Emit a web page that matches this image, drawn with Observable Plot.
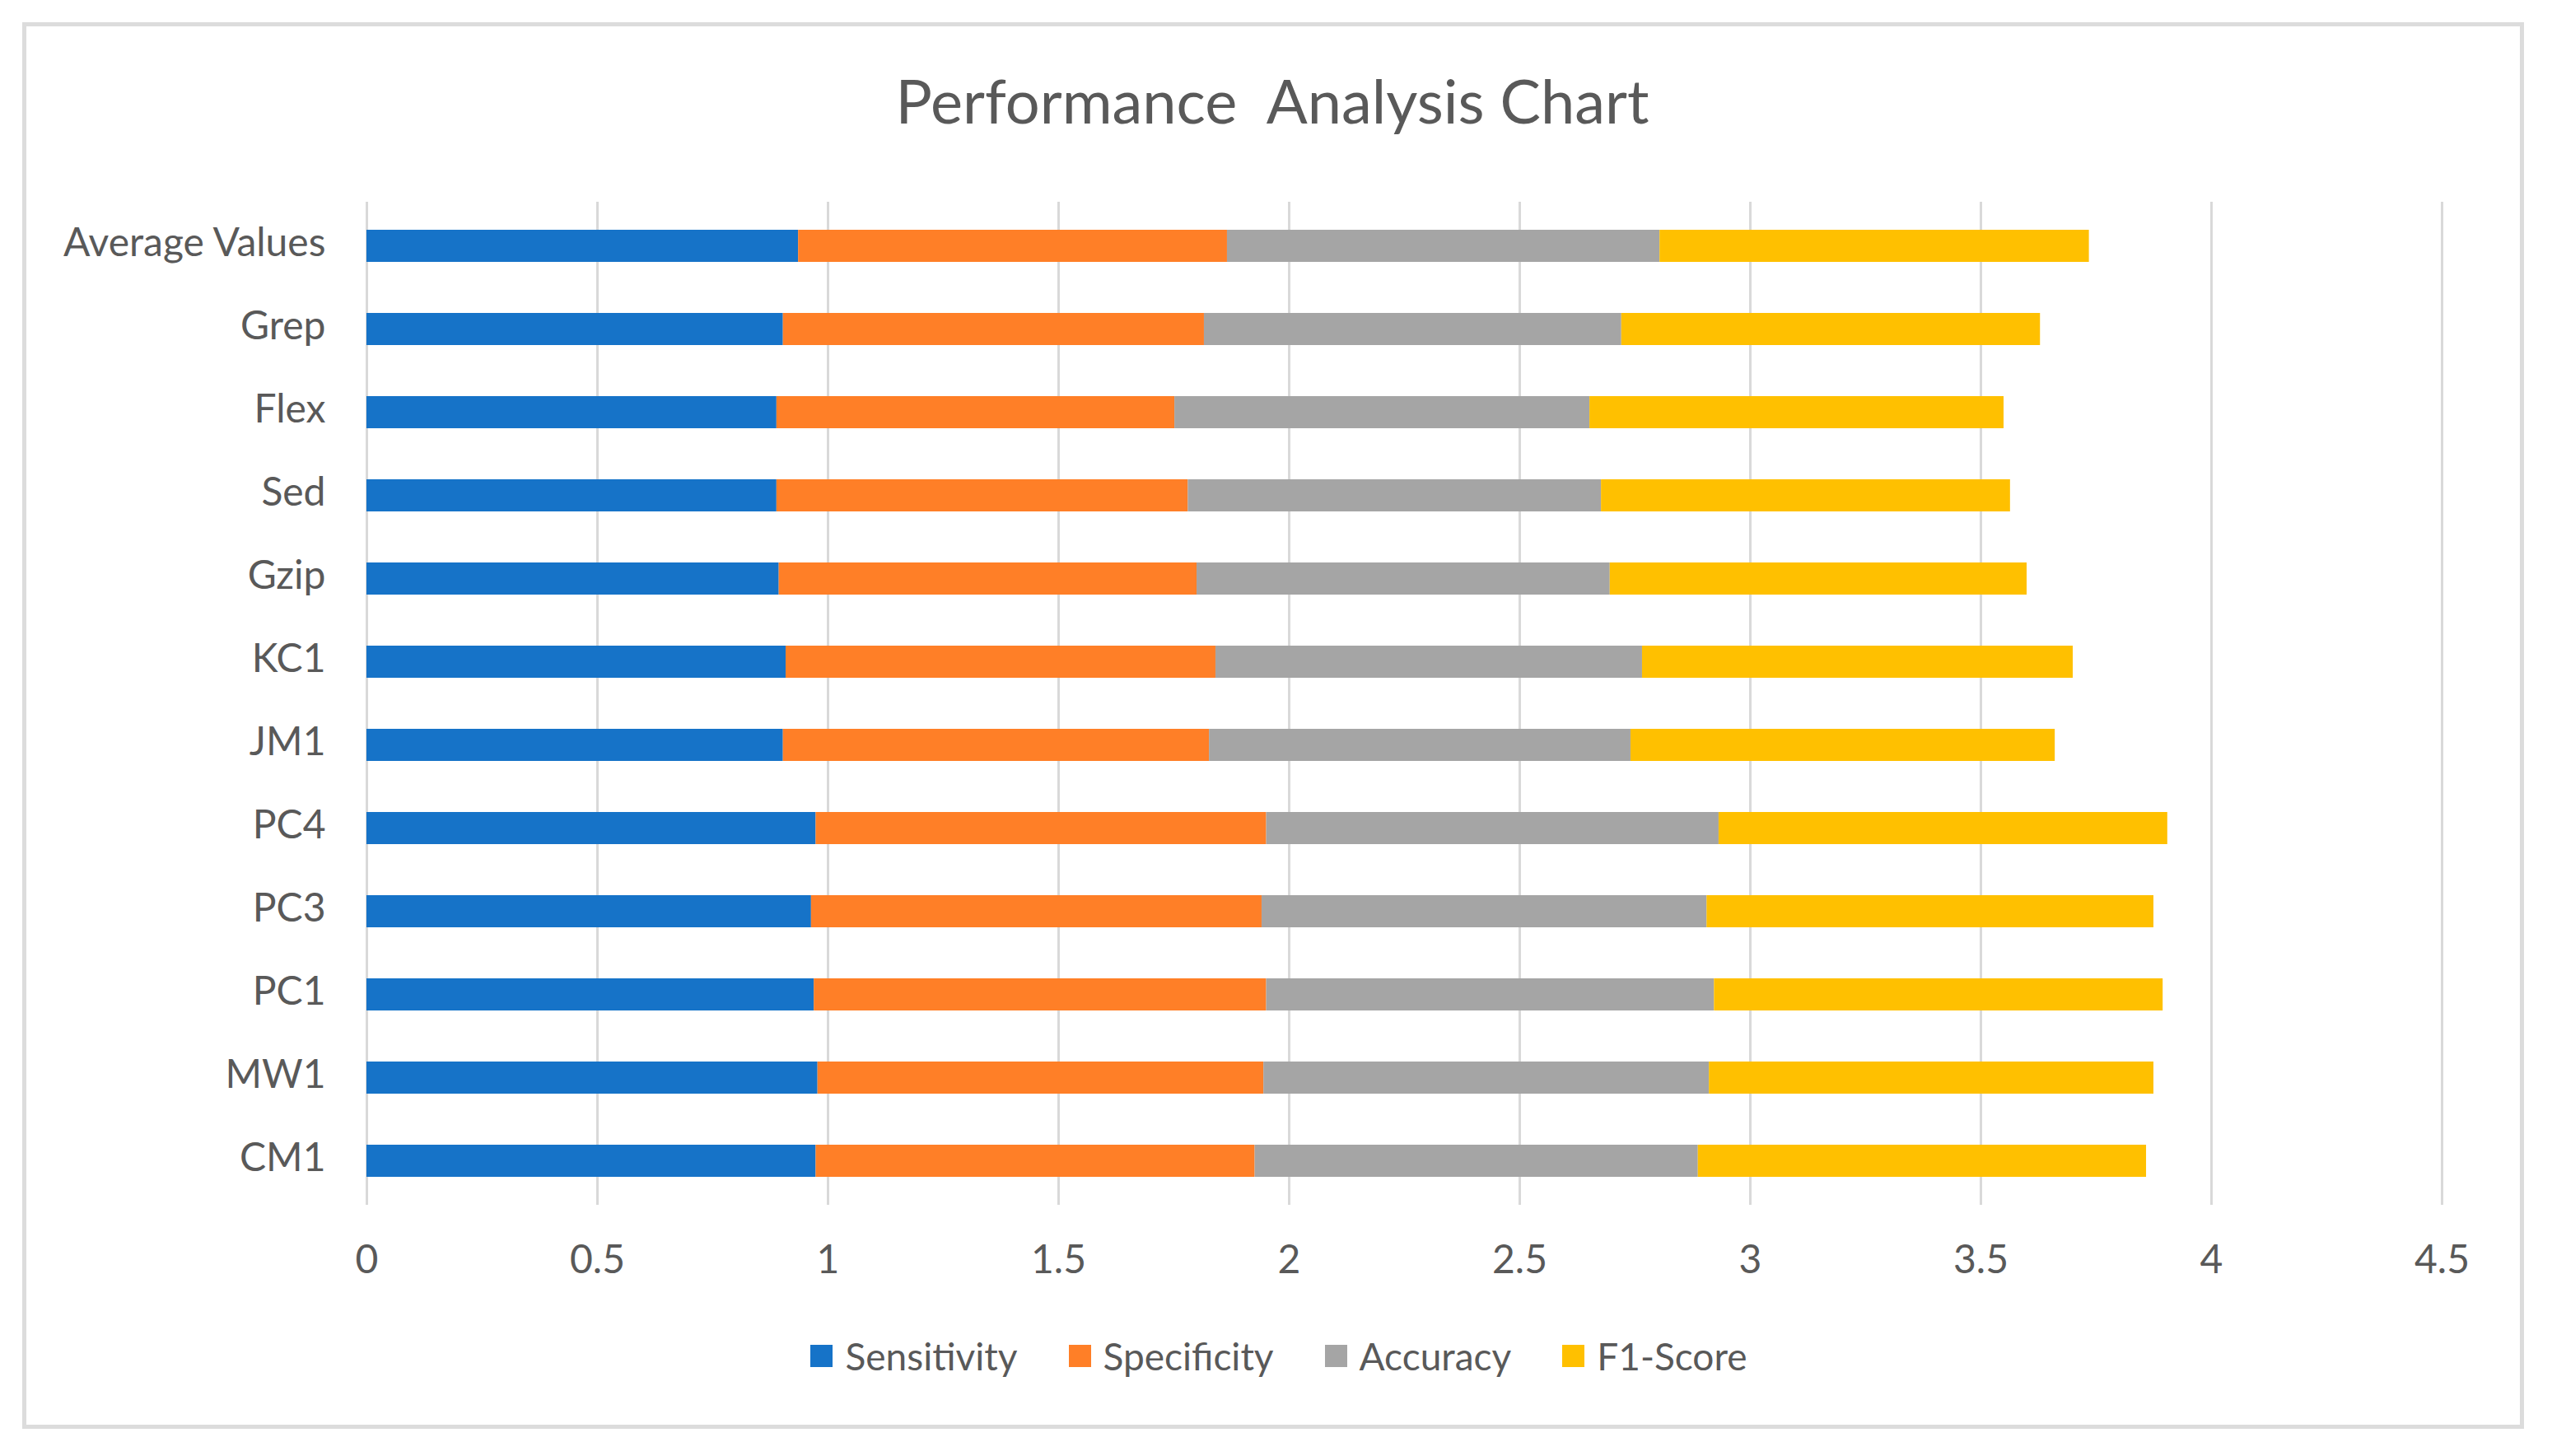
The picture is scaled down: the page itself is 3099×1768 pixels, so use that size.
<!DOCTYPE html>
<html>
<head>
<meta charset="utf-8">
<script src="https://cdn.jsdelivr.net/npm/d3@7"></script>
<script src="https://cdn.jsdelivr.net/npm/@observablehq/plot@0.6"></script>
<style>
  html, body { margin: 0; padding: 0; background: #ffffff; }
  #page { position: relative; width: 3099px; height: 1768px; background: #ffffff; font-family: Lato, "Open Sans", sans-serif; color: #595959; overflow: hidden; }
  #frame { position: absolute; left: 27px; top: 27px; width: 3028px; height: 1698px; border: 5px solid #dcdcdc; box-sizing: content-box; }
  #title { position: absolute; left: 0; width: 3090px; top: 78px; text-align: center; font-size: 74px; line-height: 1.2; color: #595959; white-space: pre; }
  #chart { position: absolute; left: 0; top: 200px; }
  #legend { position: absolute; left: 0; width: 3106px; top: 1619px; display: flex; justify-content: center; gap: 62px; font-size: 46px; line-height: 1.2; color: #595959; }
  .item { display: flex; align-items: center; gap: 15px; }
  .sw { width: 27px; height: 27px; }
</style>
</head>
<body>
<div id="page">
  <div id="frame"></div>
  <div id="title">Performance  Analysis Chart</div>
  <div id="chart"></div>
  <div id="legend"></div>
</div>
<script>
const categories = ["Average Values", "Grep", "Flex", "Sed", "Gzip", "KC1", "JM1", "PC4", "PC3", "PC1", "MW1", "CM1"];
const metrics = ["Sensitivity", "Specificity", "Accuracy", "F1-Score"];
const colors = ["#1673c8", "#ff7f27", "#a5a5a5", "#ffc000"];
const sensitivity = [0.936, 0.903, 0.889, 0.889, 0.894, 0.909, 0.903, 0.974, 0.964, 0.970, 0.978, 0.974];
const specificity = [0.930, 0.913, 0.863, 0.892, 0.906, 0.932, 0.924, 0.977, 0.977, 0.981, 0.967, 0.952];
const accuracy    = [0.938, 0.905, 0.900, 0.896, 0.896, 0.925, 0.914, 0.981, 0.965, 0.971, 0.966, 0.961];
const f1score     = [0.931, 0.908, 0.898, 0.887, 0.904, 0.934, 0.920, 0.973, 0.969, 0.973, 0.964, 0.972];
const xTicks = [0, 0.5, 1, 1.5, 2, 2.5, 3, 3.5, 4, 4.5];

const series = [sensitivity, specificity, accuracy, f1score];
const data = [];
categories.forEach((c, i) => {
  metrics.forEach((m, j) => data.push({category: c, metric: m, value: series[j][i]}));
});

const chart = Plot.plot({
  width: 3099,
  height: 1380,
  marginLeft: 445,
  marginRight: 134,
  marginTop: 45,
  marginBottom: 117,
  style: {fontFamily: "Lato, 'Open Sans', sans-serif", color: "#595959", background: "transparent"},
  x: {domain: [0, 4.5], ticks: xTicks, tickFormat: d => String(d), label: null},
  y: {domain: categories, paddingInner: 0.616, paddingOuter: 0.308, label: null},
  color: {domain: metrics, range: colors},
  marks: [
    Plot.gridX(xTicks, {stroke: "#d9d9d9", strokeWidth: 3, strokeOpacity: 1}),
    Plot.barX(data, {x: "value", y: "category", fill: "metric", order: metrics}),
    Plot.axisX({ticks: xTicks, tickFormat: d => String(d), tickSize: 0, tickPadding: 48, fontSize: 48, fill: "#595959", label: null}),
    Plot.axisY({tickSize: 0, tickPadding: 50, fontSize: 48, fill: "#595959", dy: -3, label: null})
  ]
});
document.getElementById("chart").appendChild(chart);

const colorScale = chart.scale("color");
const legend = document.getElementById("legend");
metrics.forEach(m => {
  const item = document.createElement("div");
  item.className = "item";
  const sw = document.createElement("div");
  sw.className = "sw";
  sw.style.background = colorScale.apply(m);
  const t = document.createElement("span");
  t.textContent = m;
  item.appendChild(sw);
  item.appendChild(t);
  legend.appendChild(item);
});
</script>
</body>
</html>
